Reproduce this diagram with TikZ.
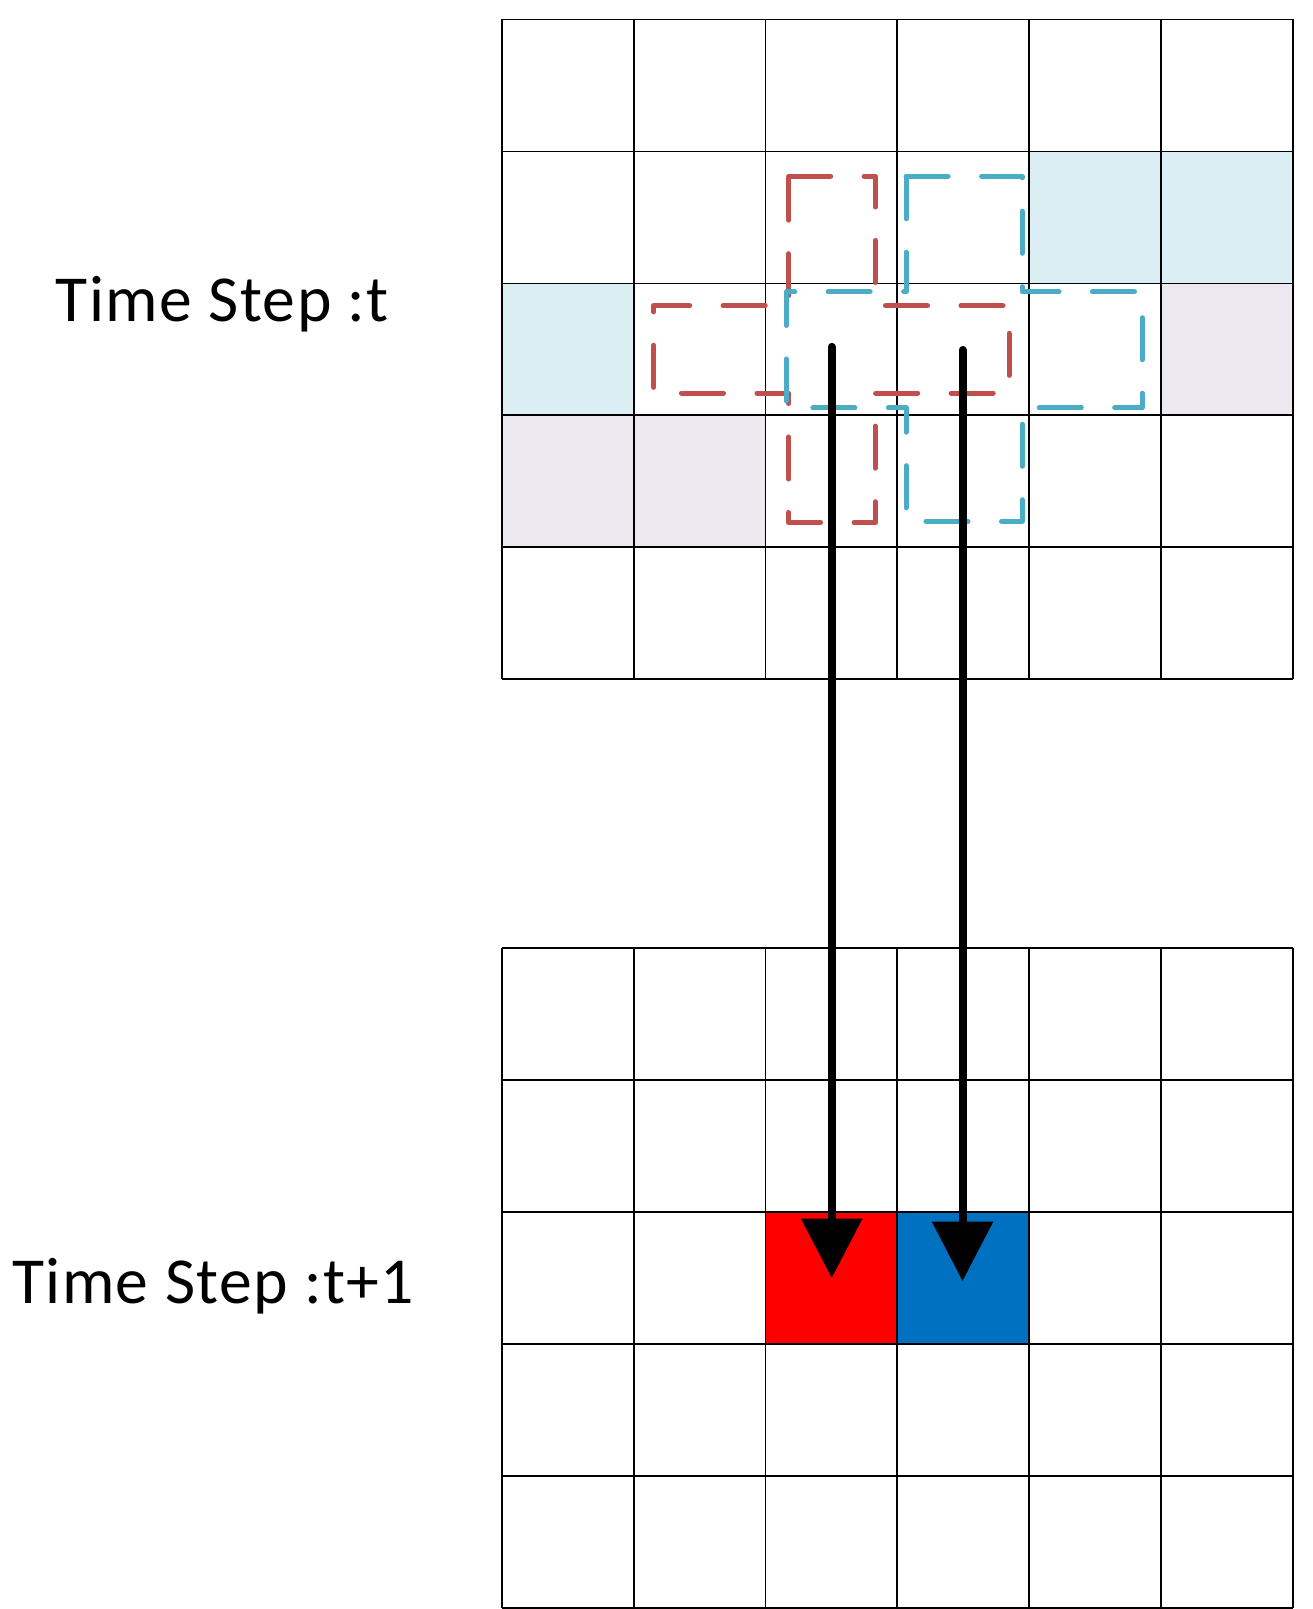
\documentclass[tikz,border=0pt]{standalone}
\usepackage{fontspec}
\setmainfont{Carlito}
\newfontfamily\labelfont[LetterSpace=2.2]{Carlito}
\usetikzlibrary{arrows.meta}
\definecolor{lblue}{HTML}{DAEEF3}
\definecolor{lpurp}{HTML}{EBE8F0}
\definecolor{dred}{HTML}{C0504D}
\definecolor{dblue}{HTML}{4BACC6}
\definecolor{fred}{HTML}{FF0000}
\definecolor{fblue}{HTML}{0070C0}
\tikzset{
  gridline/.style={draw=black, line width=0.9pt},
  dashbox/.style={line width=2.45pt, line cap=round, line join=round, dash pattern=on 20.5pt off 16.3pt},
  flowarrow/.style={line width=3.9pt, line cap=round, -{Triangle[width=29pt,length=29pt]}},
  label/.style={anchor=base west, inner sep=0pt, font=\labelfont\fontsize{32}{38}\selectfont}
}
\begin{document}
\begin{tikzpicture}[x=0.5pt,y=-0.5pt]
\useasboundingbox (0,0) rectangle (1279,1568);
\fill[white] (0,0) rectangle (1279,1568);
% colored cells, top grid
\fill[lblue] ({489+4*128.5},{19+128.6}) rectangle ({489+6*128.5},{19+2*128.6});
\fill[lblue] (489,{19+2*128.6}) rectangle ({489+128.5},{19+3*128.6});
\fill[lpurp] ({489+5*128.5},{19+2*128.6}) rectangle ({489+6*128.5},{19+3*128.6});
\fill[lpurp] (489,{19+3*128.6}) rectangle ({489+2*128.5},{19+4*128.6});
% colored cells, bottom grid
\fill[fred] ({489+2*128.5},{924+2*128.6}) rectangle ({489+3*128.5},{924+3*128.6});
\fill[fblue] ({489+3*128.5},{924+2*128.6}) rectangle ({489+4*128.5},{924+3*128.6});
% grids
\foreach \i in {0,...,6} {
  \draw[gridline] ({489+\i*128.5},19) -- ++(0,643);
  \draw[gridline] ({489+\i*128.5},924) -- ++(0,643);
}
\foreach \j in {0,...,5} {
  \draw[gridline] (489,{19+\j*128.6}) -- ++(771,0);
  \draw[gridline] (489,{924+\j*128.6}) -- ++(771,0);
}
% dashed crosses
\draw[dashbox, draw=dred] (768.5,171.6) -- (853,171.6) -- (853,298) -- (983.3,298) -- (983.3,383) -- (853,383) -- (853,509.2) -- (768.5,509.2) -- (768.5,383) -- (637,383) -- (637,298) -- (768.5,298) -- cycle;
\draw[dashbox, draw=dblue] (883,171.6) -- (996,171.6) -- (996,284.4) -- (1113,284.4) -- (1113,397.5) -- (996,397.5) -- (996,508) -- (883,508) -- (883,397.5) -- (766.2,397.5) -- (766.2,284.4) -- (883,284.4) -- cycle;
% arrows
\coordinate (a1s) at (810.5,338);
\coordinate (a1e) at (810.5,1245.5);
\coordinate (a2s) at (938,341);
\coordinate (a2e) at (938,1248.4);
\draw[flowarrow] (a1s) -- (a1e);
\draw[flowarrow] (a2s) -- (a2e);
% labels
\node[label] (lt) at (54,313.6) {Time Step :t};
\node[label] (lt1) at (11.5,1270) {Time Step :t+1};
\end{tikzpicture}
\end{document}
